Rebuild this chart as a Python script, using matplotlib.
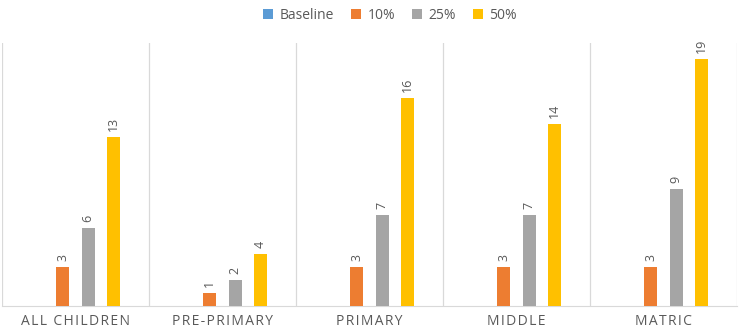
import matplotlib

matplotlib.use("Agg")
import matplotlib.pyplot as plt
import numpy as np
from matplotlib.patches import Patch

categories = ["ALL CHILDREN", "PRE-PRIMARY", "PRIMARY", "MIDDLE", "MATRIC"]
series_names = ["Baseline", "10%", "25%", "50%"]
baseline = [0, 0, 0, 0, 0]
pct10 = [3, 1, 3, 3, 3]
pct25 = [6, 2, 7, 7, 9]
pct50 = [13, 4, 16, 14, 19]

colors = ["#5B9BD5", "#ED7D31", "#A5A5A5", "#FFC000"]
TEXT = "#595959"
GRID = "#D9D9D9"

plt.rcParams["font.family"] = ["Open Sans", "DejaVu Sans"]

fig = plt.figure(figsize=(7.39, 3.31), dpi=100)
ax = fig.add_axes([2 / 739, 1 - 306 / 331, 735 / 739, (306 - 43) / 331])

x = np.arange(len(categories))
slot = 0.173
width = 0.091
all_series = [baseline, pct10, pct25, pct50]
for i, (vals, col) in enumerate(zip(all_series, colors)):
    xs = x + (i - 1.5) * slot
    ax.bar(xs, vals, width=width, color=col, zorder=3)
    for xi, v in zip(xs, vals):
        if v == 0:
            continue
        ax.annotate(str(v), (xi, v), xytext=(0, 4), textcoords="offset points",
                    rotation=90, ha="center", va="bottom", fontsize=9, color=TEXT)

ax.set_xlim(-0.5, len(categories) - 0.5)
ax.set_ylim(0, 20.2)
for b in np.arange(-0.5, len(categories) + 0.5, 1.0):
    ax.axvline(b, color=GRID, lw=0.9, zorder=1)

ax.set_yticks([])
ax.set_xticks(x)
ax.set_xticklabels(["\u200a".join(c) for c in categories], fontsize=10, color=TEXT)
ax.tick_params(axis="x", length=0, pad=6)
for side in ["top", "left", "right"]:
    ax.spines[side].set_visible(False)
ax.spines["bottom"].set_color(GRID)

handles = [Patch(facecolor=c, edgecolor="none") for c in colors]
fig.legend(handles, series_names, loc="upper center", bbox_to_anchor=(0.528, 1.015),
           ncol=4, frameon=False, fontsize=10, labelcolor=TEXT,
           handlelength=0.7, handleheight=0.7, handletextpad=0.5, columnspacing=1.2)

fig.savefig("out.png", dpi=100)
